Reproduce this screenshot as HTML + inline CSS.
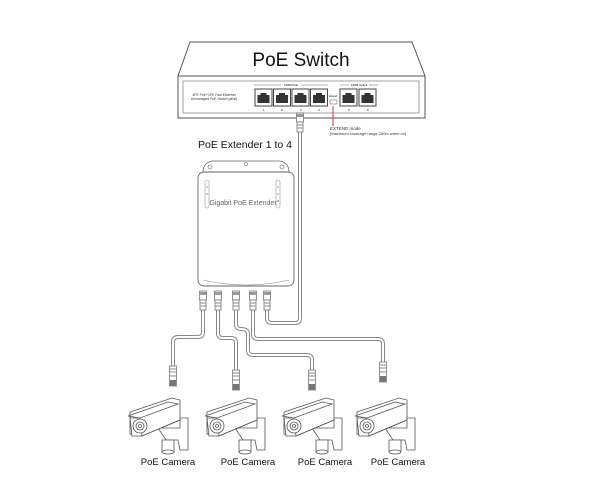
<!DOCTYPE html>
<html><head><meta charset="utf-8"><style>
html,body{margin:0;padding:0;background:#fff;}
svg{display:block;font-family:"Liberation Sans",sans-serif;}
</style></head><body>
<svg width="600" height="500" viewBox="0 0 600 500" xmlns="http://www.w3.org/2000/svg">
<defs>
<g id="plug"><rect x="-3.5" y="0" width="7" height="9" fill="#fff" stroke="#777" stroke-width="0.8"/><rect x="-3" y="1" width="6" height="3" fill="#999"/><rect x="-3" y="9" width="6" height="10" fill="#fff" stroke="#777" stroke-width="0.8"/><line x1="-3" y1="12" x2="3" y2="12" stroke="#888"/><line x1="-3" y1="15" x2="3" y2="15" stroke="#888"/></g>
<g id="plugd"><rect x="-3.5" y="0" width="7" height="10" fill="#fff" stroke="#777" stroke-width="0.8"/><line x1="-3" y1="3" x2="3" y2="3" stroke="#888"/><line x1="-3" y1="6" x2="3" y2="6" stroke="#888"/><rect x="-3.5" y="10" width="7" height="10" fill="#fff" stroke="#777" stroke-width="0.8"/><rect x="-3" y="14" width="6" height="6" fill="#777"/></g>
<g id="port"><rect x="0" y="0" width="17" height="17" fill="#fff" stroke="#444" stroke-width="1"/><path d="M2.5 14 V6 H5.5 V4 H11.5 V6 H14.5 V14 Z" fill="#333"/></g>
<g id="cam" fill="#fff" stroke="#555" stroke-width="0.8">
<path d="M30 30 L52 30 L52 20 L60 20 L60 52 L52 52 L50 42 L38 42 Z"/>
<path d="M34 42 h12 v12 h-12 z"/>
<ellipse cx="40" cy="54" rx="6" ry="2"/>
<path d="M2 14 L44 0 L52 2 L52 22 L14 38 L2 36 Z"/>
<path d="M0 18 L40 4 L50 6 L12 20 Z"/>
<path d="M2 20 L12 20 L14 38 L4 38 Z"/>
<circle cx="12" cy="28" r="7"/><circle cx="12" cy="28" r="4"/><circle cx="12" cy="28" r="1.5"/>
<path d="M14 38 L52 22" />
</g>
</defs>

<!-- Switch -->
<path d="M190 42 L412 42 L425 76 L178 76 Z" fill="#fff" stroke="#555" stroke-width="1"/>
<text x="301" y="66" font-size="19" text-anchor="middle" fill="#111">PoE Switch</text>
<rect x="178" y="76" width="247" height="42" fill="#fff" stroke="#555" stroke-width="1"/>
<rect x="183" y="81" width="236" height="32" fill="#fff" stroke="#666" stroke-width="0.6"/>
<text x="214" y="96" font-size="3.4" text-anchor="middle" fill="#333">4FE PoE+1FE Fast Ethernet</text>
<text x="214" y="100" font-size="3.4" text-anchor="middle" fill="#333">Unmanaged PoE Switch (af/at)</text>
<line x1="254" y1="85" x2="328" y2="85" stroke="#666" stroke-width="0.5"/>
<rect x="281" y="83" width="20" height="4" fill="#fff"/>
<text x="291" y="86" font-size="3" text-anchor="middle">100M PoE</text>
<line x1="340" y1="85" x2="378" y2="85" stroke="#666" stroke-width="0.5"/>
<rect x="349" y="83" width="20" height="4" fill="#fff"/>
<text x="359" y="86" font-size="3" text-anchor="middle">100M Uplink</text>
<use href="#port" x="255" y="89"/><use href="#port" x="273.5" y="89"/><use href="#port" x="292" y="89"/><use href="#port" x="310.5" y="89"/>
<use href="#port" x="340" y="89"/><use href="#port" x="359" y="89"/>
<text x="263" y="111" font-size="3">1</text><text x="281" y="111" font-size="3">2</text><text x="300" y="111" font-size="3">3</text><text x="318" y="111" font-size="3">4</text><text x="348" y="111" font-size="3">5</text><text x="367" y="111" font-size="3">6</text>
<text x="333" y="97" font-size="2.5" text-anchor="middle">Extend</text>
<rect x="330" y="100" width="7" height="4" fill="#fff" stroke="#555" stroke-width="0.5"/>
<line x1="333" y1="106" x2="333" y2="126" stroke="#d33" stroke-width="1"/>
<text x="330" y="130" font-size="4.5" fill="#333">EXTEND mode</text>
<text x="330" y="135" font-size="4" fill="#333">(Maximum coverage range 250m when on)</text>

<!-- cables -->
<g fill="none" stroke-linejoin="round" stroke-linecap="butt">
<g stroke="#888" stroke-width="4">
<path d="M300 126 V318 Q300 323 295 323 H272 Q267 323 267 318 V310"/>
<path d="M203 310 V332 Q203 337 198 337 H178 Q173 337 173 342 V368"/>
<path d="M218 310 V333 Q218 338 223 338 H231 Q236 338 236 343 V372"/>
<path d="M236 310 V324 Q236 329 241 329 Q248 329 248 334 V350 Q248 355 253 355 H307 Q312 355 312 360 V372"/>
<path d="M253 310 V334 Q253 339 258 339 H378 Q383 339 383 344 V364"/>
</g>
<g stroke="#fff" stroke-width="2">
<path d="M300 126 V318 Q300 323 295 323 H272 Q267 323 267 318 V310"/>
<path d="M203 310 V332 Q203 337 198 337 H178 Q173 337 173 342 V368"/>
<path d="M218 310 V333 Q218 338 223 338 H231 Q236 338 236 343 V372"/>
<path d="M236 310 V324 Q236 329 241 329 Q248 329 248 334 V350 Q248 355 253 355 H307 Q312 355 312 360 V372"/>
<path d="M253 310 V334 Q253 339 258 339 H378 Q383 339 383 344 V364"/>
</g>
</g>
<use href="#plug" x="300" y="113"/>

<!-- Extender -->
<text x="245" y="148" font-size="10.5" text-anchor="middle" fill="#111">PoE Extender 1 to 4</text>
<path d="M203 175 Q202 163 212 161 L280 161 Q290 163 289 175 Z" fill="#fff" stroke="#666" stroke-width="0.8"/>
<circle cx="210" cy="167" r="2" fill="none" stroke="#666" stroke-width="0.6"/><circle cx="282" cy="167" r="2" fill="none" stroke="#666" stroke-width="0.6"/><circle cx="246" cy="164" r="1.5" fill="none" stroke="#666" stroke-width="0.6"/>
<rect x="198" y="172" width="96" height="114" rx="6" fill="#fff" stroke="#666" stroke-width="0.9"/>
<path d="M203 280 Q246 290 289 280" fill="none" stroke="#888" stroke-width="0.6"/>
<rect x="205" y="180" width="4" height="28" rx="2" fill="none" stroke="#999" stroke-width="0.6"/>
<rect x="276" y="180" width="4" height="28" rx="2" fill="none" stroke="#999" stroke-width="0.6"/>
<circle cx="207" cy="187" r="0.8" fill="#6a6"/><circle cx="207" cy="194" r="0.8" fill="#6a6"/><circle cx="278" cy="187" r="0.8" fill="#6a6"/><circle cx="278" cy="194" r="0.8" fill="#6a6"/><circle cx="278" cy="201" r="0.8" fill="#c33"/>
<text x="243" y="205" font-size="7" text-anchor="middle" fill="#666">Gigabit PoE Extender</text>
<use href="#plug" x="203" y="291"/><use href="#plug" x="218" y="291"/><use href="#plug" x="236" y="291"/><use href="#plug" x="253" y="291"/><use href="#plug" x="267" y="291"/>
<use href="#plugd" x="173" y="366"/><use href="#plugd" x="236" y="370"/><use href="#plugd" x="312" y="370"/><use href="#plugd" x="383" y="362"/>

<!-- cameras -->
<use href="#cam" x="128" y="398"/><use href="#cam" x="205" y="398"/><use href="#cam" x="282" y="398"/><use href="#cam" x="355" y="398"/>
<text x="168" y="465" font-size="9.5" text-anchor="middle" fill="#111">PoE Camera</text>
<text x="248" y="465" font-size="9.5" text-anchor="middle" fill="#111">PoE Camera</text>
<text x="325" y="465" font-size="9.5" text-anchor="middle" fill="#111">PoE Camera</text>
<text x="398" y="465" font-size="9.5" text-anchor="middle" fill="#111">PoE Camera</text>
</svg>
</body></html>
